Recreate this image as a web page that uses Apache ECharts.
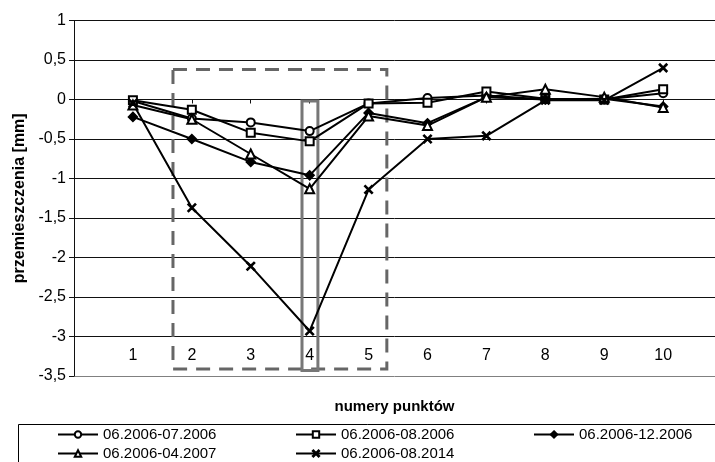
<!DOCTYPE html>
<html><head><meta charset="utf-8">
<script src="https://cdn.jsdelivr.net/npm/echarts@6/dist/echarts.min.js"></script>
<style>html,body{margin:0;padding:0;background:#fff}#c{width:715px;height:462px}</style>
</head><body><div id="c"></div>
<script>
const points = [1, 2, 3, 4, 5, 6, 7, 8, 9, 10];
const seriesNames = ['06.2006-07.2006', '06.2006-08.2006', '06.2006-12.2006', '06.2006-04.2007', '06.2006-08.2014'];
const s0706 = [-0.02, -0.24, -0.29, -0.40, -0.05, 0.02, 0.05, 0.00, 0.00, 0.08];
const s0806 = [-0.01, -0.13, -0.42, -0.53, -0.05, -0.04, 0.10, 0.01, 0.00, 0.13];
const s1206 = [-0.22, -0.50, -0.79, -0.96, -0.17, -0.30, 0.03, 0.00, 0.01, -0.09];
const s0407 = [-0.07, -0.25, -0.69, -1.13, -0.21, -0.33, 0.03, 0.13, 0.03, -0.10];
const s0814 = [-0.05, -1.37, -2.11, -2.93, -1.14, -0.50, -0.46, -0.01, -0.01, 0.40];
const xTitle = 'numery punktów';
const yTitle = 'przemieszczenia [mm]';

const FONT = "'Liberation Sans', Arial, sans-serif";
const crossPath = 'path://M0,1 L1,0 L5,4 L9,0 L10,1 L6,5 L10,9 L9,10 L5,6 L1,10 L0,9 L4,5 Z';
const symbols = ['emptyCircle', 'emptyRect', 'diamond', 'emptyTriangle', crossPath];
const symbolSizes = [8, 8, 9, 9, 8];
const allValues = [s0706, s0806, s1206, s0407, s0814];

// annotation frames (data units)
const dashedFrame = [[1.68, 0.38], [5.31, -3.41]];
const solidFrame = [[3.87, -0.02], [4.14, -3.43]];

const series = allValues.map((vals, i) => ({
  name: seriesNames[i],
  type: 'line',
  data: points.map((p, k) => [p, vals[k]]),
  symbol: symbols[i],
  symbolSize: symbolSizes[i],
  showAllSymbol: true,
  lineStyle: { color: '#000', width: 2 },
  itemStyle: { color: '#000', borderColor: '#000', borderWidth: 1.5 },
  animation: false,
  z: 3
}));

series.push({
  type: 'line', data: [], silent: true, animation: false,
  markArea: {
    silent: true,
    label: { show: false },
    itemStyle: { color: 'rgba(0,0,0,0)', borderColor: '#666', borderWidth: 3, borderType: [14, 9] },
    data: [[{ xAxis: dashedFrame[0][0], yAxis: dashedFrame[0][1] }, { xAxis: dashedFrame[1][0], yAxis: dashedFrame[1][1] }]]
  }
});
series.push({
  type: 'line', data: [], silent: true, animation: false,
  markArea: {
    silent: true,
    label: { show: false },
    itemStyle: { color: 'rgba(0,0,0,0)', borderColor: '#777', borderWidth: 3, borderType: 'solid' },
    data: [[{ xAxis: solidFrame[0][0], yAxis: solidFrame[0][1] }, { xAxis: solidFrame[1][0], yAxis: solidFrame[1][1] }]]
  }
});

const legendPos = [[57, 427], [295, 427], [533, 427], [57, 446], [295, 446]];
const legends = seriesNames.map((n, i) => ({
  data: [n],
  left: legendPos[i][0], top: legendPos[i][1],
  padding: 0, itemWidth: 40, itemHeight: 8, itemGap: 6,
  selectedMode: false,
  textStyle: { fontSize: 15, color: '#000', fontFamily: FONT }
}));

const gridColors = ['#808080', '#111', '#111', '#111', '#111', '#111', '#111', '#111', '#111', '#111'];

const chart = echarts.init(document.getElementById('c'), null, { renderer: 'canvas' });
chart.setOption({
  backgroundColor: '#fff',
  animation: false,
  textStyle: { fontFamily: FONT },
  grid: { left: 74, top: 20.5, right: 0, bottom: 86, containLabel: false },
  legend: legends,
  xAxis: {
    type: 'value', min: 0, max: 10.88, interval: 1,
    offset: -39.5,
    name: xTitle, nameLocation: 'middle', nameGap: 63,
    nameTextStyle: { fontSize: 15, fontWeight: 'bold', color: '#000', fontFamily: FONT },
    axisLine: { show: true, lineStyle: { color: '#111', width: 1 } },
    axisTick: { show: true, length: 4, lineStyle: { color: '#111' } },
    axisLabel: {
      fontSize: 16, color: '#000', margin: 11, fontFamily: FONT,
      showMaxLabel: false,
      formatter: v => (v >= 1 && v <= 10) ? String(v) : ''
    },
    splitLine: { show: false }
  },
  yAxis: {
    type: 'value', min: -3.5, max: 1, interval: 0.5,
    name: yTitle, nameLocation: 'middle', nameGap: 42, nameRotate: 90,
    nameTextStyle: { fontSize: 16, fontWeight: 'bold', color: '#000', fontFamily: FONT },
    axisLine: { show: true, lineStyle: { color: '#111', width: 1 } },
    axisTick: { show: true, length: 5, lineStyle: { color: '#111' } },
    axisLabel: {
      fontSize: 16, color: '#000', margin: 8, fontFamily: FONT,
      formatter: v => String(v).replace('.', ',')
    },
    splitLine: { show: true, lineStyle: { color: gridColors, width: 1 } }
  },
  graphic: [{
    type: 'rect', silent: true,
    shape: { x: 18.5, y: 424.5, width: 720, height: 60 },
    style: { fill: 'none', stroke: '#000', lineWidth: 1 }
  }],
  series: series
});
</script>
</body></html>
